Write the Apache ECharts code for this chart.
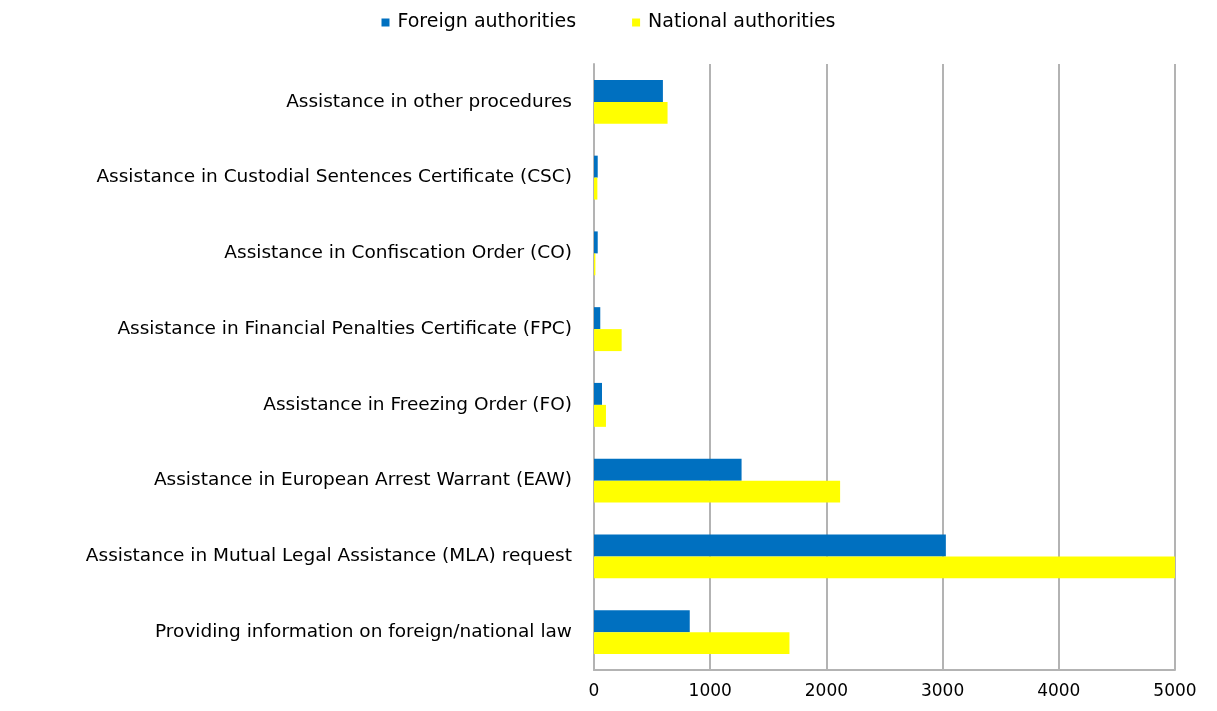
<!DOCTYPE html>
<html>
<head>
<meta charset="utf-8">
<script src="https://cdn.jsdelivr.net/npm/echarts@6/dist/echarts.min.js"></script>
<style>
  html, body { margin: 0; padding: 0; background: #fff; }
  #chart { width: 1217px; height: 711px; }
</style>
</head>
<body>
<div id="chart"></div>
<script>
// categories listed top to bottom (y axis is inverted)
var categories = [
  'Assistance in other procedures',
  'Assistance in Custodial Sentences Certificate (CSC)',
  'Assistance in Confiscation Order (CO)',
  'Assistance in Financial Penalties Certificate (FPC)',
  'Assistance in Freezing Order (FO)',
  'Assistance in European Arrest Warrant (EAW)',
  'Assistance in Mutual Legal Assistance (MLA) request',
  'Providing information on foreign/national law'
];
var foreignValues = [593, 32, 32, 54, 69, 1270, 3028, 824];
var nationalValues = [633, 29, 12, 238, 103, 2118, 5000, 1682];
var seriesNames = ['Foreign authorities', 'National authorities'];

var chart = echarts.init(document.getElementById('chart'));
var font = '"DejaVu Sans", sans-serif';

var option = {
  animation: false,
  color: ['#0070C0', '#FFFF00'],
  legend: {
    data: seriesNames,
    top: 8,
    left: 'center',
    icon: 'rect',
    itemWidth: 8,
    itemHeight: 8,
    itemGap: 56,
    textStyle: { fontFamily: font, fontSize: 19, color: '#000', padding: [0, 0, 0, 3] }
  },
  grid: {
    left: 594,
    right: 42,
    top: 64,
    bottom: 41,
    containLabel: false
  },
  xAxis: {
    type: 'value',
    min: 0,
    max: 5000,
    interval: 1000,
    axisLine: { show: true, lineStyle: { color: '#b3b3b3', width: 2 } },
    axisTick: { show: false },
    axisLabel: {
      fontFamily: font, fontSize: 17, color: '#000', margin: 13,
      formatter: function (v) { return String(v); }
    },
    splitLine: { show: true, lineStyle: { color: '#b3b3b3', width: 2 } }
  },
  yAxis: {
    type: 'category',
    inverse: true,
    data: categories,
    axisLine: { show: true, lineStyle: { color: '#b3b3b3', width: 2 } },
    axisTick: { show: false },
    axisLabel: { fontFamily: font, fontSize: 18.5, color: '#000', margin: 22 }
  },
  series: [
    {
      name: seriesNames[0],
      type: 'bar',
      data: foreignValues,
      barGap: '0%',
      barCategoryGap: '42%'
    },
    {
      name: seriesNames[1],
      type: 'bar',
      data: nationalValues,
      barGap: '0%',
      barCategoryGap: '42%'
    }
  ]
};

chart.setOption(option);
</script>
</body>
</html>
